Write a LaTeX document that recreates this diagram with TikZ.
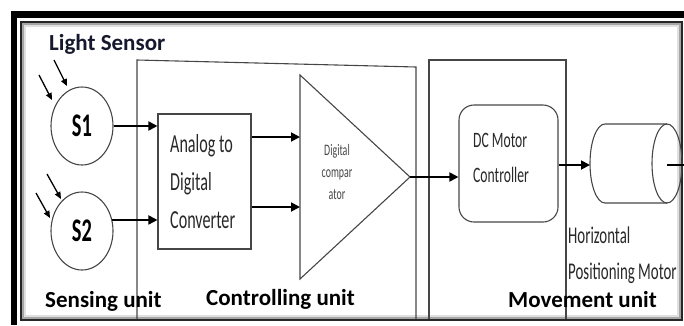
\documentclass[tikz,border=0pt]{standalone}
\usepackage{fontspec}
\setmainfont{Carlito}
\newfontfamily\condfont[FakeStretch=0.62]{Carlito}
\usetikzlibrary{arrows.meta,shapes.geometric}
\definecolor{navy}{RGB}{22,24,46}
\definecolor{linegray}{RGB}{70,70,70}
\definecolor{textgray}{RGB}{40,40,40}

\begin{document}
\begin{tikzpicture}[x=1pt,y=-1pt,
  outline/.style={draw=linegray,line width=1.1pt},
  flow/.style={line width=1.8pt,-{Triangle[length=9pt,width=9pt]}},
  ray/.style={line width=1.3pt,-{Triangle[length=7pt,width=6pt]}},
  unitlabel/.style={font=\fontsize{23}{27}\selectfont\bfseries,anchor=base west,inner sep=0},
  boxtext/.style={font=\condfont\fontsize{26}{38}\selectfont,align=left,text=textgray,inner sep=0,anchor=west},
  sensor/.style={ellipse,outline,minimum width=62pt,minimum height=78pt,inner sep=0,
    font=\condfont\bfseries\fontsize{33}{36}\selectfont}
]
\useasboundingbox (0,0) rectangle (684,325);

% heavy black frame with a thin inner border and soft inner shadow
\fill[black] (11,11) rectangle (684,18);
\fill[black] (11,11) rectangle (17,325);
\draw[black!85,line width=1.3pt] (21,22) rectangle (682,320);
\draw[black!35,line width=1.6pt] (23,24) rectangle (680,318);
\draw[black!12,line width=2pt] (25,26) rectangle (678,316);

% unit outlines
\draw[outline] (137,319) -- (137,60) -- (416,67) -- (416,319);
\draw[outline] (429,319) -- (429,60) -- (566,60) -- (566,319);

% sensing unit
\node[unitlabel,text=navy] (lightlbl) at (49,50) {Light Sensor};
\node[sensor] (s1) at (82,126) {S1};
\node[sensor] (s2) at (82,231) {S2};

\coordinate (r1a) at (39,75);  \coordinate (r1b) at (52,100);
\coordinate (r2a) at (54,60);  \coordinate (r2b) at (67,86);
\coordinate (r3a) at (36,193); \coordinate (r3b) at (50,218);
\coordinate (r4a) at (47,174); \coordinate (r4b) at (61,199);
\draw[ray] (r1a) -- (r1b);
\draw[ray] (r2a) -- (r2b);
\draw[ray] (r3a) -- (r3b);
\draw[ray] (r4a) -- (r4b);

% controlling unit
\node[outline,minimum width=93pt,minimum height=135pt,inner sep=0] (adc) at (204.5,181.5) {};
\node[boxtext] (adctext) at (170,182) {Analog to\\Digital\\Converter};

\coordinate (cmptop) at (300,75);
\coordinate (cmpbot) at (300,279);
\coordinate (cmpout) at (410,177);
\coordinate (cmpin1) at (300,137);
\coordinate (cmpin2) at (300,207);
\draw[outline,line join=miter] (cmptop) -- (cmpout) -- (cmpbot) -- cycle;
\node[font=\condfont\fontsize{16}{22}\selectfont,align=center,text=black!72,inner sep=0] (cmptext) at (337,172) {Digital\\compar\\ator};

\draw[flow] (s1.east) -- (adc.west |- s1.east);
\draw[flow] (s2.20) -- (adc.west |- s2.20);
\draw[flow] (adc.east |- cmpin1) -- (cmpin1);
\draw[flow] (adc.east |- cmpin2) -- (cmpin2);

% movement unit
\node[outline,rounded corners=15pt,minimum width=99pt,minimum height=117pt,inner sep=0] (dc) at (508.5,163.5) {};
\node[boxtext,font=\condfont\fontsize{22}{35}\selectfont] (dctext) at (473,158) {DC Motor\\Controller};
\draw[flow] (cmpout) -- (dc.west |- cmpout);

% motor drawn as a horizontal cylinder
\coordinate (motorin) at (590,165);
\coordinate (shaft) at (667,165);
\coordinate (shaftend) at (684,165);
\draw[outline] (667,124) -- (605,124) arc[start angle=-90,end angle=-270,x radius=15,y radius=39.5] -- (667,203);
\draw[outline] (667,163.5) ellipse[x radius=15,y radius=39.5];
\draw[line width=1.3pt] (shaft) -- (shaftend);
\draw[flow] (dc.east |- motorin) -- (motorin);
\node[boxtext,font=\condfont\fontsize{24}{36}\selectfont] (motortext) at (568,255) {Horizontal\\Positioning Motor};

% unit labels
\node[unitlabel] (senslbl) at (45,307) {Sensing unit};
\node[unitlabel] (ctrllbl) at (206,305) {Controlling unit};
\node[unitlabel] (movelbl) at (508,307) {Movement unit};
\end{tikzpicture}
\end{document}
